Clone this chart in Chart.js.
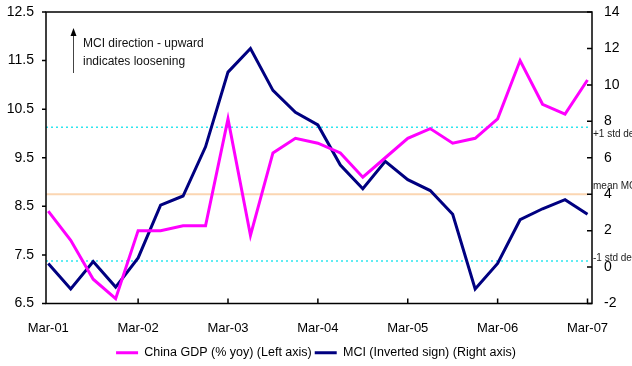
<!DOCTYPE html>
<html>
<head>
<meta charset="utf-8">
<script src="https://cdn.jsdelivr.net/npm/chart.js@4"></script>
<style>
  html, body { margin: 0; padding: 0; background: #fff; }
  #wrap { width: 632px; height: 366px; }
</style>
</head>
<body>
<div id="wrap"><canvas id="mciChart"></canvas></div>
<script>
// QUARTERS
const quarters = [
    'Mar-01', 'Jun-01', 'Sep-01', 'Dec-01',
    'Mar-02', 'Jun-02', 'Sep-02', 'Dec-02',
    'Mar-03', 'Jun-03', 'Sep-03', 'Dec-03',
    'Mar-04', 'Jun-04', 'Sep-04', 'Dec-04',
    'Mar-05', 'Jun-05', 'Sep-05', 'Dec-05',
    'Mar-06', 'Jun-06', 'Sep-06', 'Dec-06',
    'Mar-07'
];

// China GDP, % yoy (left axis)
const gdp = [8.4, 7.8, 7.0, 6.6, 8.0, 8.0, 8.1, 8.1, 10.3, 7.9, 9.6, 9.9, 9.8, 9.6, 9.1, 9.5, 9.9, 10.1, 9.8, 9.9, 10.3, 11.5, 10.6, 10.4, 11.1];

// MCI, inverted sign (right axis)
const mci = [0.2, -1.2, 0.3, -1.1, 0.5, 3.4, 3.9, 6.6, 10.7, 12.0, 9.7, 8.5, 7.8, 5.6, 4.3, 5.8, 4.8, 4.2, 2.9, -1.2, 0.2, 2.6, 3.2, 3.7, 2.9];

// MCI mean and +/- 1 std dev (right axis)
const refValues = [7.67, 4.0, 0.33];
const refNames = ['+1 std dev', 'mean MCI', '-1 std dev'];

const leftTicks = [6.5, 7.5, 8.5, 9.5, 10.5, 11.5, 12.5];
const rightTicks = [-2, 0, 2, 4, 6, 8, 10, 12, 14];
const xTickIdx = [0, 4, 8, 12, 16, 20, 24];

const FONT = "'Liberation Sans', Arial, sans-serif";

// FRAME, TICKS, REFERENCE LINES, NOTE
const decorPlugin = {
    id: 'decor',
    beforeDatasetsDraw(chart) {
        const ctx = chart.ctx;
        const a = chart.chartArea;
        const y1 = chart.scales.y1;
        ctx.save();
        refValues.forEach((v, i) => {
            const py = y1.getPixelForValue(v);
            ctx.beginPath();
            if (i === 1) {
                ctx.strokeStyle = '#fbd6b2';
                ctx.lineWidth = 2;
                ctx.setLineDash([]);
            } else {
                ctx.strokeStyle = '#2ee6f0';
                ctx.lineWidth = 1.5;
                ctx.setLineDash([2, 3]);
            }
            ctx.moveTo(a.left, py);
            ctx.lineTo(a.right - 4, py);
            ctx.stroke();
        });
        ctx.restore();
    },
    afterDraw(chart) {
        const ctx = chart.ctx;
        const a = chart.chartArea;
        const x = chart.scales.x, y = chart.scales.y, y1 = chart.scales.y1;
        ctx.save();
        ctx.strokeStyle = '#000';
        ctx.lineWidth = 1.5;
        ctx.setLineDash([]);
        ctx.strokeRect(a.left, a.top, a.right - a.left, a.bottom - a.top);

        ctx.beginPath();
        leftTicks.forEach(v => {
            const py = y.getPixelForValue(v);
            ctx.moveTo(a.left - 4, py);
            ctx.lineTo(a.left, py);
        });
        rightTicks.forEach(v => {
            const py = y1.getPixelForValue(v);
            ctx.moveTo(a.right - 5, py);
            ctx.lineTo(a.right, py);
        });
        xTickIdx.slice(1).forEach(v => {
            const px = x.getPixelForValue(v);
            ctx.moveTo(px, a.bottom);
            ctx.lineTo(px, a.bottom - 5);
        });
        ctx.stroke();

        // std dev / mean labels
        ctx.fillStyle = '#222';
        ctx.font = '10px ' + FONT;
        ctx.textBaseline = 'middle';
        ctx.textAlign = 'left';
        const shift = [7, -8, -3];
        refValues.forEach((v, i) => {
            ctx.fillText(refNames[i], a.right + 1, y1.getPixelForValue(v) + shift[i]);
        });

        // direction note
        ctx.strokeStyle = '#444';
        ctx.lineWidth = 1;
        ctx.beginPath();
        ctx.moveTo(73.5, 73);
        ctx.lineTo(73.5, 34);
        ctx.stroke();
        ctx.fillStyle = '#000';
        ctx.beginPath();
        ctx.moveTo(73.5, 28);
        ctx.lineTo(70.5, 36);
        ctx.lineTo(76.5, 36);
        ctx.closePath();
        ctx.fill();
        ctx.fillStyle = '#111';
        ctx.font = '12px ' + FONT;
        ctx.fillText('MCI direction - upward', 83, 44);
        ctx.fillText('indicates loosening', 83, 62);
        ctx.restore();
    }
};

// y axes: fixed width, no extra room for the end labels
function fitY(width) {
    return scale => {
        scale.width = width;
        scale.paddingTop = 0;
        scale.paddingBottom = 0;
    };
}

document.addEventListener('DOMContentLoaded', function() {
    const ctx = document.getElementById('mciChart').getContext('2d');
    window.mciChart = new Chart(ctx, {
        type: 'line',
        data: {
            datasets: [{
                label: 'China GDP (% yoy) (Left axis)',
                data: gdp.map((v, i) => ({ x: i, y: v })),
                borderColor: '#ff00ff',
                backgroundColor: '#ff00ff',
                borderWidth: 3,
                pointRadius: 0,
                tension: 0,
                yAxisID: 'y'
            }, {
                label: 'MCI (Inverted sign) (Right axis)',
                data: mci.map((v, i) => ({ x: i, y: v })),
                borderColor: '#000080',
                backgroundColor: '#000080',
                borderWidth: 3,
                pointRadius: 0,
                tension: 0,
                yAxisID: 'y1'
            }]
        },
        options: {
            responsive: true,
            maintainAspectRatio: false,
            animation: false,
            layout: { padding: { top: 12, bottom: -3, left: 0, right: 0 } },
            scales: {
                x: {
                    type: 'linear',
                    min: -0.1,
                    max: 24.2,
                    afterBuildTicks: scale => { scale.ticks = xTickIdx.map(v => ({ value: v })); },
                    afterFit: scale => { scale.height = 40; scale.paddingLeft = 0; scale.paddingRight = 0; },
                    grid: { display: false, drawTicks: false, tickLength: 0 },
                    border: { display: false },
                    ticks: {
                        autoSkip: false,
                        maxRotation: 0,
                        padding: 17,
                        color: '#000',
                        font: { family: FONT, size: 13 },
                        callback: v => quarters[v]
                    }
                },
                y: {
                    position: 'left',
                    min: 6.5,
                    max: 12.5,
                    afterFit: fitY(46),
                    grid: { display: false, drawTicks: false, tickLength: 0 },
                    border: { display: false },
                    ticks: {
                        stepSize: 1,
                        padding: 12,
                        color: '#000',
                        font: { family: FONT, size: 14 }
                    }
                },
                y1: {
                    position: 'right',
                    min: -2,
                    max: 14,
                    afterFit: fitY(40),
                    grid: { display: false, drawTicks: false, tickLength: 0 },
                    border: { display: false },
                    ticks: {
                        stepSize: 2,
                        padding: 12,
                        color: '#000',
                        font: { family: FONT, size: 14 }
                    }
                }
            },
            plugins: {
                tooltip: { enabled: false },
                legend: {
                    position: 'bottom',
                    labels: {
                        usePointStyle: true,
                        pointStyle: 'line',
                        pointStyleWidth: 22,
                        padding: 3,
                        color: '#000',
                        font: { family: FONT, size: 12.5 }
                    }
                }
            }
        },
        plugins: [decorPlugin]
    });
});
</script>
</body>
</html>
